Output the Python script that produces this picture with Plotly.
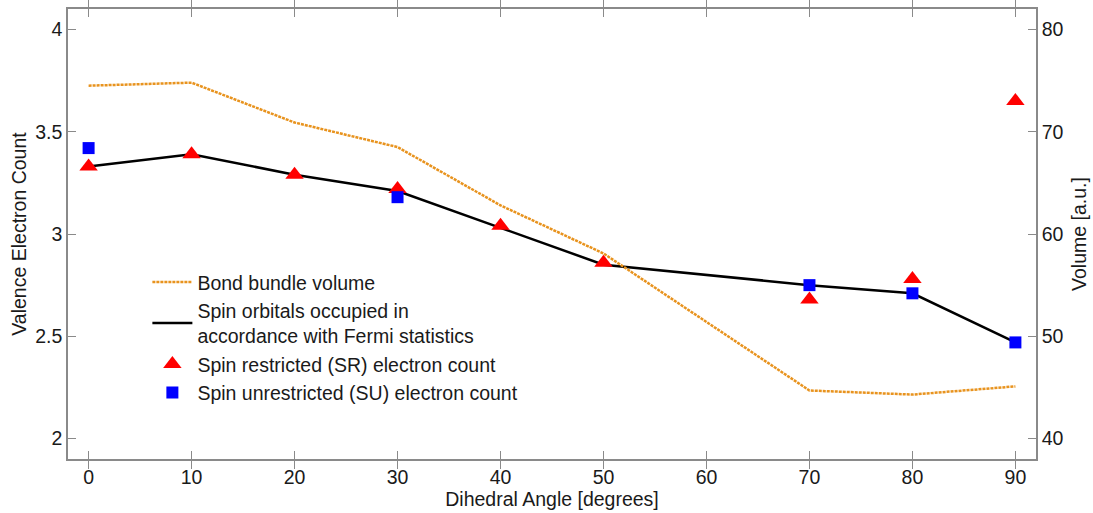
import plotly.graph_objects as go

angles_line = [0, 10, 20, 30, 40, 50, 70, 80, 90]
fermi_count = [3.33, 3.39, 3.29, 3.21, 3.03, 2.85, 2.75, 2.71, 2.47]

angles_vol = [0, 10, 20, 30, 40, 50, 70, 80, 90]
bond_volume = [74.5, 74.8, 70.9, 68.5, 62.8, 58.1, 44.7, 44.3, 45.1]

angles_sr = [0, 10, 20, 30, 40, 50, 70, 80, 90]
sr_count = [3.33, 3.39, 3.29, 3.22, 3.04, 2.86, 2.68, 2.78, 3.65]

angles_su = [0, 30, 70, 80, 90]
su_count = [3.42, 3.18, 2.75, 2.71, 2.47]

FONT = "Liberation Sans, Arial, Helvetica, sans-serif"
AXC = "#8a8a8a"
FS = 19.5

fig = go.Figure()
fig.add_trace(go.Scatter(
    x=angles_vol, y=bond_volume, yaxis="y2", mode="lines",
    name="Bond bundle volume",
    line=dict(color="#E8931E", width=2.5, dash="3px,1px")))
fig.add_trace(go.Scatter(
    x=angles_line, y=fermi_count, mode="lines",
    name="Spin orbitals occupied in<br>accordance with Fermi statistics",
    line=dict(color="black", width=2.5)))
fig.add_trace(go.Scatter(
    x=angles_sr, y=sr_count, mode="markers",
    name="Spin restricted (SR) electron count",
    marker=dict(symbol="triangle-up", color="#FF0000", size=16, line=dict(width=0))))
fig.add_trace(go.Scatter(
    x=angles_su, y=su_count, mode="markers",
    name="Spin unrestricted (SU) electron count",
    marker=dict(symbol="square", color="#0000FF", size=12, line=dict(width=0))))

fig.update_layout(
    width=1093, height=513,
    margin=dict(l=68, r=57, t=9, b=54, autoexpand=False),
    paper_bgcolor="white", plot_bgcolor="white",
    font=dict(family=FONT, size=FS, color="#1a1a1a"),
    showlegend=True,
    legend=dict(x=0.082, y=0.436, xanchor="left", yanchor="top",
                bgcolor="rgba(0,0,0,0)", font=dict(size=FS, family=FONT, color="#1a1a1a"),
                tracegroupgap=0, itemwidth=40),
    xaxis=dict(range=[-2, 92], tickvals=[0, 10, 20, 30, 40, 50, 60, 70, 80, 90],
               ticks="inside", ticklen=8, tickcolor=AXC, showline=True, linecolor=AXC,
               linewidth=1.5, mirror="allticks", showgrid=False, zeroline=False,
               automargin=False,
               title=dict(text="Dihedral Angle [degrees]", font=dict(size=FS), standoff=4)),
    yaxis=dict(range=[1.9, 4.1], tickvals=[2, 2.5, 3, 3.5, 4],
               ticktext=["2", "2.5", "3", "3.5", "4"],
               ticks="inside", ticklen=8, tickcolor=AXC, showline=True, linecolor=AXC,
               linewidth=1.5, showgrid=False, zeroline=False, automargin=False,
               title=dict(text="Valence Electron Count", font=dict(size=FS), standoff=3)),
    yaxis2=dict(range=[38, 82], tickvals=[40, 50, 60, 70, 80], overlaying="y", side="right",
                ticks="inside", ticklen=8, tickcolor=AXC, showline=True, linecolor=AXC,
                linewidth=1.5, showgrid=False, zeroline=False, automargin=False,
                title=dict(text="Volume [a.u.]", font=dict(size=FS), standoff=10)),
)

fig.write_html("out.html", config={"displayModeBar": False},
               post_script="document.body.style.margin='0';document.body.style.overflow='hidden';")
